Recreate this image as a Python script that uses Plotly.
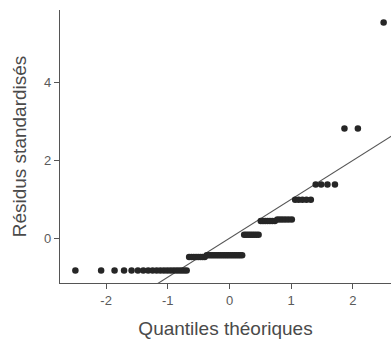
from statistics import NormalDist
import plotly.graph_objects as go

# Standardized residual levels (sorted) and how many observations sit on each level
residual_levels = [-0.83, -0.48, -0.44, 0.09, 0.44, 0.48, 0.99, 1.38, 2.82, 5.54]
level_counts = [20, 8, 19, 8, 7, 6, 5, 4, 2, 1]

# Reference line (identity)
line_slope = 1.0
line_intercept = 0.0
line_x = [-3.0, 3.0]

x_ticks = [-2, -1, 0, 1, 2]
y_ticks = [0, 2, 4]

x_title = "Quantiles théoriques"
y_title = "Résidus standardisés"

# Build sorted sample and theoretical normal quantiles (ppoints, a = 0.5)
sample = []
for v, c in zip(residual_levels, level_counts):
    sample.extend([v] * c)
n = len(sample)
theo = [NormalDist().inv_cdf((i + 0.5) / n) for i in range(n)]

line_y = [line_intercept + line_slope * x for x in line_x]

fig = go.Figure()
fig.add_trace(go.Scatter(
    x=line_x, y=line_y, mode="lines",
    line=dict(color="#555555", width=1.1),
    hoverinfo="skip", showlegend=False,
))
fig.add_trace(go.Scatter(
    x=theo, y=sample, mode="markers",
    marker=dict(color="#262626", size=6.5, line=dict(width=0)),
    cliponaxis=False,
    showlegend=False,
))

axis_common = dict(
    showgrid=False, zeroline=False, showline=True, automargin=False,
    linecolor="#555555", linewidth=1.2,
    ticks="outside", ticklen=5, tickwidth=1.2, tickcolor="#555555",
    tickfont=dict(family="Liberation Sans, Arial, sans-serif", size=13, color="#5a5a5a"),
    title_font=dict(family="Liberation Sans, Arial, sans-serif", size=19, color="#4a4a4a"),
)

fig.update_layout(
    width=391, height=343,
    margin=dict(l=60, r=0, t=10, b=60),
    paper_bgcolor="white", plot_bgcolor="white",
    xaxis=dict(range=[-2.747, 2.617], tickvals=x_ticks,
               ticktext=[str(t) for t in x_ticks],
               title=dict(text=x_title, standoff=14), **axis_common),
    yaxis=dict(range=[-1.15, 5.86], tickvals=y_ticks,
               ticktext=[str(t) for t in y_ticks],
               title=dict(text=y_title, standoff=12), **axis_common),
)

fig.write_html(
    "out.html",
    config={"displayModeBar": False},
    post_script="document.body.style.margin='0';document.body.style.padding='0';document.body.style.overflow='hidden';",
)
